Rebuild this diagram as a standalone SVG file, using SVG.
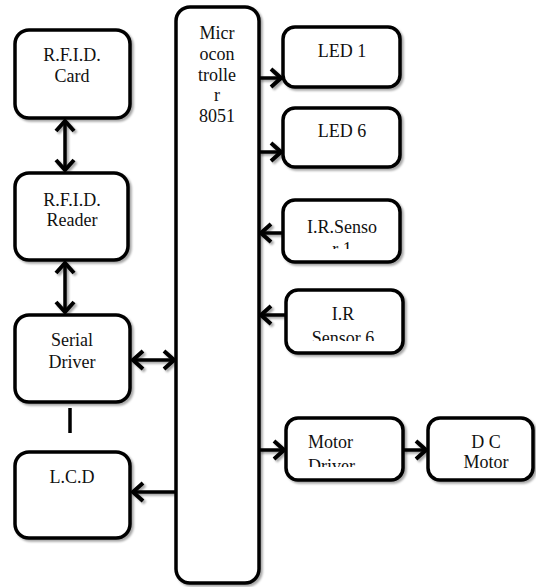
<svg xmlns="http://www.w3.org/2000/svg" width="536" height="587" viewBox="0 0 536 587">
<style>
  .box { fill: #ffffff; stroke: #000000; stroke-width: 3.5; }
  .lbl { font-size: 18px; fill: #111111; text-anchor: middle; }
  .lft { text-anchor: start; }
  .conn { fill: none; stroke: #000000; stroke-width: 3.5; }
  .shd { filter: url(#shadow); }
</style>
<defs>
  <filter id="shadow" x="-10%" y="-10%" width="130%" height="130%">
    <feDropShadow dx="2" dy="2" stdDeviation="1.2" flood-color="#000000" flood-opacity="0.35"/>
  </filter>
  <marker id="arr" viewBox="0 0 14 22" refX="12" refY="11" markerWidth="14" markerHeight="22" markerUnits="userSpaceOnUse" orient="auto-start-reverse">
    <path d="M2,2 L12,11 L2,20" fill="none" stroke="#000000" stroke-width="4" stroke-linejoin="miter"/>
  </marker>
  <clipPath id="clipIR1"><rect x="283" y="200" width="117" height="49"/></clipPath>
  <clipPath id="clipIR6"><rect x="286" y="290" width="117" height="51"/></clipPath>
  <clipPath id="clipMD"><rect x="286" y="418" width="117" height="49"/></clipPath>
</defs>

<g id="connectors">
  <g class="shd">
    <line class="conn" x1="65" y1="121" x2="65" y2="170" marker-start="url(#arr)" marker-end="url(#arr)"/>
    <line class="conn" x1="65" y1="263" x2="65" y2="312" marker-start="url(#arr)" marker-end="url(#arr)"/>
    <line class="conn" x1="133" y1="360" x2="174" y2="360" marker-start="url(#arr)" marker-end="url(#arr)"/>
    <line class="conn" x1="176" y1="492" x2="133" y2="492" marker-end="url(#arr)"/>
    <line class="conn" x1="259" y1="78" x2="281" y2="78" marker-end="url(#arr)"/>
    <line class="conn" x1="259" y1="152" x2="281" y2="152" marker-end="url(#arr)"/>
    <line class="conn" x1="283" y1="233" x2="261" y2="233" marker-end="url(#arr)"/>
    <line class="conn" x1="286" y1="315" x2="261" y2="315" marker-end="url(#arr)"/>
    <line class="conn" x1="259" y1="450" x2="284" y2="450" marker-end="url(#arr)"/>
    <line class="conn" x1="403" y1="450" x2="426" y2="450" marker-end="url(#arr)"/>
  </g>
  <line class="conn" x1="70" y1="408" x2="70" y2="433" stroke-width="2.5"/>
</g>

<g font-family="Liberation Serif, Times New Roman, serif">
<g id="micro">
  <rect class="box shd" x="176" y="7" width="83" height="576" rx="14"/>
  <text class="lbl" x="217" y="39">Micr</text>
  <text class="lbl" x="217" y="60">ocon</text>
  <text class="lbl" x="217" y="80.5">trolle</text>
  <text class="lbl" x="217" y="101">r</text>
  <text class="lbl" x="217" y="122">8051</text>
</g>

<g id="rfid-card">
  <rect class="box shd" x="15" y="30" width="115" height="88" rx="14"/>
  <text class="lbl" x="72" y="61">R.F.I.D.</text>
  <text class="lbl" x="72" y="82">Card</text>
</g>

<g id="rfid-reader">
  <rect class="box shd" x="15" y="173" width="113" height="87" rx="14"/>
  <text class="lbl" x="72" y="206">R.F.I.D.</text>
  <text class="lbl" x="72" y="226">Reader</text>
</g>

<g id="serial-driver">
  <rect class="box shd" x="15" y="315" width="115" height="87" rx="14"/>
  <text class="lbl" x="72" y="346">Serial</text>
  <text class="lbl" x="72" y="368">Driver</text>
</g>

<g id="lcd">
  <rect class="box shd" x="15" y="452" width="115" height="86" rx="14"/>
  <text class="lbl" x="72" y="483">L.C.D</text>
</g>

<g id="led1">
  <rect class="box shd" x="283" y="27" width="117" height="60" rx="12"/>
  <text class="lbl" x="342" y="57">LED 1</text>
</g>

<g id="led6">
  <rect class="box shd" x="283" y="108" width="117" height="59" rx="12"/>
  <text class="lbl" x="342" y="137">LED 6</text>
</g>

<g id="ir-sensor-1">
  <rect class="box shd" x="283" y="200" width="117" height="62" rx="12"/>
  <g clip-path="url(#clipIR1)">
    <text class="lbl" x="342" y="233">I.R.Senso</text>
    <text class="lbl" x="342" y="255">r 1</text>
  </g>
</g>

<g id="ir-sensor-6">
  <rect class="box shd" x="286" y="290" width="117" height="63" rx="12"/>
  <g clip-path="url(#clipIR6)">
    <text class="lbl" x="343" y="320">I.R</text>
    <text class="lbl" x="343" y="344">Sensor 6</text>
  </g>
</g>

<g id="motor-driver">
  <rect class="box shd" x="286" y="418" width="117" height="62" rx="12"/>
  <g clip-path="url(#clipMD)">
    <text class="lbl lft" x="308" y="448">Motor</text>
    <text class="lbl lft" x="308" y="472">Driver</text>
  </g>
</g>

<g id="dc-motor">
  <rect class="box shd" x="428" y="418" width="105" height="62" rx="12"/>
  <text class="lbl" x="486" y="448">D C</text>
  <text class="lbl" x="486" y="468">Motor</text>
</g>
</g>
</svg>
